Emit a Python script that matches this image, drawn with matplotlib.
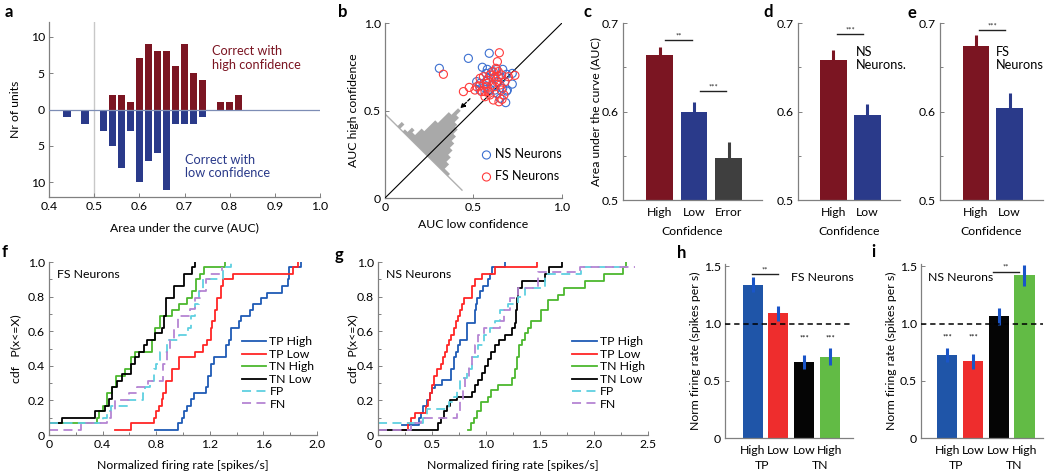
import numpy as np
import matplotlib.pyplot as plt
from matplotlib.ticker import MultipleLocator

plt.rcParams['font.family'] = ['Lato', 'DejaVu Sans']
plt.rcParams['font.size'] = 8.8

# ---------------- data ----------------
# a: AUC histograms
hi_bins = [0.54, 0.56, 0.58, 0.60, 0.62, 0.64, 0.66, 0.68, 0.70, 0.72, 0.74, 0.78, 0.80, 0.82]
hi_counts = [2, 2, 1, 7, 9, 8, 8, 6, 9, 5, 4, 1, 1, 2]
lo_bins = [0.44, 0.48, 0.52, 0.54, 0.56, 0.58, 0.60, 0.62, 0.64, 0.66, 0.68, 0.70, 0.72, 0.74]
lo_counts = [1, 2, 3, 5, 8, 3, 10, 7, 6, 11, 2, 2, 2, 1]

# b: AUC low vs high confidence per neuron
ns_low = [0.307, 0.471, 0.589, 0.55, 0.578, 0.571, 0.603, 0.631, 0.665, 0.687, 0.719, 0.719, 0.691,
          0.687, 0.682, 0.65, 0.621, 0.593, 0.571, 0.537, 0.518, 0.537, 0.559, 0.64, 0.659, 0.612,
          0.584, 0.665, 0.631]
ns_high = [0.741, 0.798, 0.827, 0.747, 0.735, 0.712, 0.722, 0.735, 0.735, 0.707, 0.712, 0.651, 0.617,
           0.611, 0.545, 0.57, 0.617, 0.621, 0.665, 0.655, 0.665, 0.617, 0.632, 0.665, 0.684, 0.684,
           0.684, 0.627, 0.598]
fs_low = [0.33, 0.443, 0.476, 0.646, 0.635, 0.734, 0.612, 0.644, 0.518, 0.508, 0.533, 0.546, 0.565,
          0.571, 0.578, 0.556, 0.593, 0.612, 0.627, 0.64, 0.621, 0.631, 0.603, 0.621, 0.65, 0.657,
          0.672, 0.661, 0.584, 0.537, 0.659, 0.697, 0.678, 0.593, 0.565, 0.574, 0.64]
fs_high = [0.707, 0.608, 0.632, 0.83, 0.779, 0.701, 0.56, 0.55, 0.636, 0.617, 0.64, 0.608, 0.608,
           0.636, 0.674, 0.693, 0.703, 0.722, 0.741, 0.722, 0.693, 0.665, 0.646, 0.636, 0.646, 0.617,
           0.589, 0.564, 0.608, 0.684, 0.703, 0.693, 0.665, 0.589, 0.579, 0.655, 0.693]
# histogram of (high - low) shown along the anti-diagonal
diff_edges = [-0.23, -0.20, -0.17, -0.14, -0.11, -0.08, -0.05, -0.02, 0.01, 0.04, 0.07,
              0.10, 0.13, 0.16, 0.19, 0.22, 0.25, 0.28, 0.31, 0.34]
diff_counts = [1, 1, 3, 5, 7, 9, 11, 13, 14, 16, 18, 15, 10, 5, 2, 3, 1, 0, 2]

# c, d, e: mean AUC
c_labels = ['High', 'Low', 'Error']
c_vals = [0.664, 0.600, 0.548]
c_err = [0.009, 0.011, 0.017]
d_labels = ['High', 'Low']
d_vals = [0.658, 0.596]
d_err = [0.011, 0.013]
e_labels = ['High', 'Low']
e_vals = [0.674, 0.604]
e_err = [0.013, 0.017]

# f: FS neurons cdf
f_tph_x = [0.79, 0.96, 0.99, 1.01, 1.03, 1.06, 1.08, 1.17, 1.19, 1.21, 1.23, 1.32, 1.34, 1.36, 1.42,
           1.43, 1.50, 1.52, 1.58, 1.63, 1.74, 1.78, 1.79, 1.88]
f_tph_y = [0.03, 0.07, 0.10, 0.14, 0.17, 0.21, 0.24, 0.28, 0.34, 0.41, 0.45, 0.52, 0.55, 0.62, 0.66,
           0.69, 0.72, 0.76, 0.79, 0.82, 0.86, 0.90, 0.97, 1.0]
f_tpl_x = [0.49, 0.61, 0.78, 0.80, 0.82, 0.84, 0.85, 0.87, 0.92, 0.97, 1.09, 1.15, 1.18, 1.21, 1.22,
           1.24, 1.25, 1.28, 1.30, 1.37, 1.82, 1.86]
f_tpl_y = [0.03, 0.07, 0.10, 0.14, 0.17, 0.21, 0.24, 0.31, 0.38, 0.45, 0.48, 0.52, 0.55, 0.62, 0.66,
           0.72, 0.79, 0.86, 0.90, 0.93, 0.97, 1.0]
f_tnh_x = [0.0, 0.357, 0.37, 0.40, 0.43, 0.47, 0.50, 0.57, 0.61, 0.645, 0.77, 0.79, 0.83, 0.92, 0.97,
           1.03, 1.07, 1.10, 1.13, 1.16, 1.31]
f_tnh_y = [0.07, 0.10, 0.14, 0.17, 0.24, 0.28, 0.34, 0.38, 0.45, 0.48, 0.55, 0.62, 0.69, 0.72, 0.76,
           0.79, 0.83, 0.90, 0.93, 0.97, 1.0]
f_tnl_x = [0.0, 0.095, 0.345, 0.42, 0.445, 0.47, 0.51, 0.545, 0.61, 0.64, 0.67, 0.71, 0.73, 0.79, 0.84,
           0.86, 0.87, 0.93, 1.01, 1.07, 1.09]
f_tnl_y = [0.07, 0.10, 0.14, 0.17, 0.21, 0.28, 0.31, 0.35, 0.41, 0.45, 0.48, 0.52, 0.55, 0.59, 0.62,
           0.69, 0.79, 0.86, 0.93, 0.97, 1.0]
f_fp_x = [0.0, 0.40, 0.43, 0.46, 0.59, 0.70, 0.72, 0.75, 0.78, 0.80, 0.83, 0.88, 0.97, 1.04, 1.06,
          1.09, 1.12, 1.15, 1.30, 1.36]
f_fp_y = [0.07, 0.10, 0.14, 0.17, 0.20, 0.24, 0.28, 0.31, 0.38, 0.41, 0.48, 0.55, 0.58, 0.62, 0.69,
          0.76, 0.83, 0.90, 0.97, 1.0]
f_fn_x = [0.0, 0.24, 0.43, 0.46, 0.49, 0.60, 0.66, 0.74, 0.85, 0.88, 0.90, 0.93, 0.96, 1.05, 1.09,
          1.13, 1.17, 1.20, 1.29]
f_fn_y = [0.03, 0.07, 0.10, 0.14, 0.20, 0.24, 0.28, 0.31, 0.41, 0.48, 0.55, 0.62, 0.69, 0.73, 0.79,
          0.83, 0.90, 0.93, 0.97]

# g: NS neurons cdf
g_tph_x = [0.22, 0.38, 0.40, 0.42, 0.45, 0.48, 0.50, 0.53, 0.59, 0.68, 0.70, 0.72, 0.74, 0.76, 0.82,
           0.90, 0.91, 0.92, 0.94, 0.97, 1.02, 1.04, 1.06, 1.18]
g_tph_y = [0.06, 0.10, 0.13, 0.17, 0.20, 0.24, 0.27, 0.29, 0.32, 0.38, 0.45, 0.48, 0.52, 0.55, 0.65,
           0.72, 0.76, 0.79, 0.83, 0.86, 0.90, 0.93, 0.97, 1.0]
g_tpl_x = [0.17, 0.28, 0.31, 0.34, 0.44, 0.46, 0.48, 0.50, 0.52, 0.55, 0.58, 0.60, 0.62, 0.64, 0.66,
           0.68, 0.70, 0.72, 0.74, 0.76, 0.78, 0.80, 0.87, 0.90, 0.96, 1.08, 1.47]
g_tpl_y = [0.03, 0.07, 0.10, 0.13, 0.17, 0.20, 0.24, 0.29, 0.34, 0.38, 0.41, 0.45, 0.48, 0.52, 0.55,
           0.58, 0.62, 0.66, 0.69, 0.72, 0.76, 0.79, 0.86, 0.90, 0.93, 0.97, 1.0]
g_tnh_x = [0.83, 0.86, 0.89, 0.92, 0.95, 1.02, 1.05, 1.11, 1.24, 1.27, 1.29, 1.31, 1.33, 1.36, 1.39,
           1.42, 1.51, 1.57, 1.67, 1.72, 1.92, 2.09, 2.27, 2.30]
g_tnh_y = [0.03, 0.07, 0.10, 0.14, 0.19, 0.22, 0.26, 0.29, 0.33, 0.38, 0.45, 0.52, 0.55, 0.59, 0.62,
           0.66, 0.72, 0.78, 0.81, 0.85, 0.89, 0.93, 0.97, 1.0]
g_tnl_x = [0.0, 0.56, 0.58, 0.61, 0.64, 0.67, 0.73, 0.87, 0.90, 0.93, 0.96, 0.99, 1.02, 1.05, 1.08,
           1.12, 1.18, 1.24, 1.27, 1.28, 1.29, 1.30, 1.33, 1.55, 1.58, 1.70]
g_tnl_y = [0.03, 0.07, 0.10, 0.14, 0.17, 0.20, 0.22, 0.25, 0.29, 0.32, 0.36, 0.40, 0.44, 0.48, 0.52,
           0.55, 0.58, 0.62, 0.65, 0.72, 0.79, 0.85, 0.89, 0.93, 0.97, 1.0]
g_fp_x = [0.0, 0.42, 0.45, 0.66, 0.70, 0.73, 0.76, 0.82, 0.87, 0.93, 0.98, 1.04, 1.08, 1.13, 1.20,
          1.30, 1.36, 1.55, 1.88, 2.30]
g_fp_y = [0.067, 0.10, 0.15, 0.19, 0.22, 0.26, 0.33, 0.38, 0.45, 0.52, 0.58, 0.62, 0.66, 0.72, 0.76,
          0.80, 0.85, 0.93, 0.97, 0.97]
g_fn_x = [0.0, 0.31, 0.40, 0.73, 0.76, 0.79, 0.81, 0.84, 0.87, 0.90, 0.93, 0.98, 1.13, 1.17, 1.22,
          1.30, 1.48, 1.87, 2.38]
g_fn_y = [0.03, 0.07, 0.10, 0.14, 0.20, 0.28, 0.33, 0.40, 0.45, 0.52, 0.58, 0.62, 0.66, 0.72, 0.79,
          0.85, 0.94, 0.97, 0.97]

# h, i: normalised firing rates
hi_labels = ['High', 'Low', 'Low', 'High']
h_vals = [1.34, 1.09, 0.665, 0.71]
h_err = [0.065, 0.065, 0.062, 0.075]
i_vals = [0.725, 0.67, 1.065, 1.42]
i_err = [0.06, 0.065, 0.075, 0.09]

DARK_RED = '#7b1522'
DARK_BLUE = '#2a3a8a'
GREY = '#3f3f3f'
AXC = '#808080'
CDF_COLORS = ['#1f5bb5', '#ff2525', '#4cb82e', '#000000', '#5fd0e0', '#b585d3']
BAR4_COLORS = ['#1f55a8', '#ee2d2d', '#050505', '#62bb45']
ERR_BLUE = '#1a55c8'

W, H = 1050, 473
fig = plt.figure(figsize=(W / 100, H / 100), dpi=100)


def px_axes(x0, y0, x1, y1):
    ax = fig.add_axes([x0 / W, 1 - y1 / H, (x1 - x0) / W, (y1 - y0) / H])
    ax.box_px = (x0, y0, x1, y1)
    for s in ['top', 'right']:
        ax.spines[s].set_visible(False)
    for s in ['left', 'bottom']:
        ax.spines[s].set_color(AXC)
        ax.spines[s].set_linewidth(0.9)
    ax.tick_params(which='both', direction='in', color=AXC, width=0.7, labelsize=8.8, pad=3)
    ax.tick_params(which='major', length=3)
    ax.tick_params(which='minor', length=2)
    return ax


def ylabel_px(ax, text, px):
    # the y label is anchored at its right edge (rotated 'bottom')
    x0, y0, x1, y1 = ax.box_px
    ax.set_ylabel(text, fontsize=8.8)
    ax.yaxis.set_label_coords((px + 6 - x0) / (x1 - x0), 0.5)


def xlabel_px(ax, text, py):
    x0, y0, x1, y1 = ax.box_px
    ax.set_xlabel(text, fontsize=8.8)
    ax.xaxis.set_label_coords(0.5, (y1 - py + 6) / (y1 - y0))


def letter(px, py, s):
    fig.text(px / W, 1 - py / H, s, fontsize=12, fontweight='bold', ha='center', va='center')


# ---------------- a ----------------
ax = px_axes(49, 22, 320, 197)
ax.axvline(0.5, color='#c8c8c8', lw=1.0, zorder=1)
ax.bar(hi_bins, hi_counts, width=0.0163, color=DARK_RED, zorder=2)
ax.bar(lo_bins, -np.array(lo_counts), width=0.0163, color=DARK_BLUE, zorder=2)
ax.axhline(0, color='#7d8db5', lw=0.9, zorder=3)
ax.set_xlim(0.4, 1.0)
ax.set_ylim(-12, 12)
ax.set_xticks([0.4, 0.5, 0.6, 0.7, 0.8, 0.9, 1.0])
ax.set_xticklabels(['0.4', '0.5', '0.6', '0.7', '0.8', '0.9', '1.0'])
ax.set_yticks([-10, -5, 0, 5, 10])
ax.set_yticklabels(['10', '5', '0', '5', '10'])
ax.text(0.76, 7.05, 'Correct with\nhigh confidence', color=DARK_RED, fontsize=9.2,
        va='center', linespacing=1.15)
ax.text(0.70, -7.8, 'Correct with\nlow confidence', color=DARK_BLUE, fontsize=9.2,
        va='center', linespacing=1.15)
ylabel_px(ax, 'Nr of units', 15)
xlabel_px(ax, 'Area under the curve (AUC)', 228)
letter(9, 12, 'a')

# ---------------- b ----------------
ax = px_axes(385, 23, 562, 198)
ax.set_xlim(0, 1)
ax.set_ylim(0, 1)
# rotated histogram of the AUC difference
base = 0.48
unit = 0.0175
nrm = np.array([1.0, 1.0]) / np.sqrt(2)


def foot(d):
    return np.array([(base - d) / 2, (base + d) / 2])


verts = [foot(diff_edges[0])]
for k, cnt in enumerate(diff_counts):
    verts.append(foot(diff_edges[k]) + cnt * unit * nrm)
    verts.append(foot(diff_edges[k + 1]) + cnt * unit * nrm)
verts.append(foot(diff_edges[-1]))
verts = np.array(verts)
ax.fill(verts[:, 0], verts[:, 1], color='#a9a9a9', lw=0, zorder=2)
anti = np.array([foot(0.48), foot(-0.39)])
ax.plot(anti[:, 0], anti[:, 1], color='#b0b0b0', lw=1.0, zorder=1)
ax.plot([0, 1], [0, 1], color='black', lw=0.8, zorder=3)
ax.annotate('', xy=(0.425, 0.512), xytext=(0.48, 0.567),
            arrowprops=dict(arrowstyle='-|>', color='black', lw=0.9, linestyle=(0, (2.5, 1.5)),
                            mutation_scale=7, shrinkA=0, shrinkB=0), zorder=4)
ax.scatter(ns_low, ns_high, s=34, facecolors='none', edgecolors='#3b6fd0', linewidths=0.8,
           label='NS Neurons', zorder=4)
ax.scatter(fs_low, fs_high, s=34, facecolors='none', edgecolors='#ff3b3b', linewidths=0.8,
           label='FS Neurons', zorder=4)
ax.legend(loc='lower left', bbox_to_anchor=(0.545, 0.09), frameon=False, fontsize=9,
          handlelength=0.8, handletextpad=0.3, labelspacing=0.8, borderpad=0, borderaxespad=0)
ax.set_xticks([0, 0.5, 1])
ax.set_xticklabels(['0', '0.5', '1.0'])
ax.set_yticks([0, 0.5, 1])
ax.set_yticklabels(['0', '0.5', '1.0'])
ylabel_px(ax, 'AUC high confidence', 353)
xlabel_px(ax, 'AUC low confidence', 225)
letter(343, 12, 'b')


# ---------------- c, d, e ----------------
def auc_bars(box, vals, errs, labels, colors, xlim):
    ax = px_axes(*box)
    xs = np.arange(1, len(vals) + 1)
    ax.bar(xs, vals, width=0.78, color=colors, zorder=2)
    for x, v, e, c in zip(xs, vals, errs, colors):
        ax.errorbar(x, v, yerr=[[0], [e]], fmt='none', ecolor=c, elinewidth=2.2, capsize=0, zorder=3)
    ax.set_xlim(*xlim)
    ax.set_ylim(0.5, 0.7)
    ax.set_yticks([0.5, 0.6, 0.7])
    ax.set_yticklabels(['0.5', '0.6', '0.7'])
    ax.yaxis.set_minor_locator(MultipleLocator(0.05))
    ax.set_xticks(xs)
    ax.set_xticklabels(labels, fontsize=8.8)
    ax.tick_params(axis='x', length=0, pad=5)
    xlabel_px(ax, 'Confidence', 232)
    return ax


def sig(ax, x0, x1, y, stars, dy):
    ax.plot([x0, x1], [y, y], color='#222222', lw=1.0, zorder=3)
    ax.text((x0 + x1) / 2, y + dy, stars, fontsize=5.5, ha='center', va='bottom', color='#222222')


ax = auc_bars((623, 23, 762, 200), c_vals, c_err, c_labels, [DARK_RED, DARK_BLUE, GREY], (-0.058, 3.97))
sig(ax, 1.16, 1.94, 0.681, '**', 0.0005)
sig(ax, 2.16, 2.94, 0.623, '***', 0.0005)
ylabel_px(ax, 'Area under the curve (AUC)', 595)
letter(587, 12, 'c')

ax = auc_bars((798, 23, 900, 200), d_vals, d_err, d_labels, [DARK_RED, DARK_BLUE], (-0.044, 2.956))
sig(ax, 1.1, 1.87, 0.688, '***', 0.0005)
ax.text(1.66, 0.660, 'NS\nNeurons.', fontsize=9.2, va='center', linespacing=1.15)
letter(768, 12, 'd')

ax = auc_bars((940, 23, 1043, 200), e_vals, e_err, e_labels, [DARK_RED, DARK_BLUE], (-0.075, 3.0))
sig(ax, 1.1, 1.88, 0.6916, '***', 0.0005)
ax.text(1.6, 0.660, 'FS\nNeurons', fontsize=9.2, va='center', linespacing=1.15)
letter(912, 13, 'e')


# ---------------- f, g ----------------
def cdf_panel(box, curves, xmax, xticks, xticklabels, xminor, title):
    ax = px_axes(*box)
    names = ['TP High', 'TP Low', 'TN High', 'TN Low', 'FP', 'FN']
    for (cx, cy), name, col in zip(curves, names, CDF_COLORS):
        ls = (0, (5, 3)) if name in ('FP', 'FN') else '-'
        ax.step(cx, cy, where='post', color=col, lw=1.3, ls=ls, label=name)
    ax.set_xlim(0, xmax)
    ax.set_ylim(0, 1.0)
    ax.set_xticks(xticks)
    ax.set_xticklabels(xticklabels)
    ax.xaxis.set_minor_locator(MultipleLocator(xminor))
    ax.set_yticks([0, 0.2, 0.4, 0.6, 0.8, 1.0])
    ax.set_yticklabels(['0', '0.2', '0.4', '0.6', '0.8', '1.0'])
    ax.yaxis.set_minor_locator(MultipleLocator(0.1))
    ax.text(0.03, 0.925, title, transform=ax.transAxes, fontsize=8.8, va='center')
    ax.legend(loc='upper left', bbox_to_anchor=(0.72, 0.57), frameon=False, fontsize=8.8,
              handlelength=2.0, handletextpad=0.25, labelspacing=0.12, borderpad=0, borderaxespad=0)
    xlabel_px(ax, 'Normalized firing rate [spikes/s]', 466)
    return ax


f_curves = [(f_tph_x, f_tph_y), (f_tpl_x, f_tpl_y), (f_tnh_x, f_tnh_y),
            (f_tnl_x, f_tnl_y), (f_fp_x, f_fp_y), (f_fn_x, f_fn_y)]
ax = cdf_panel((49, 262, 317, 435), f_curves, 2.0, [0, 0.4, 0.8, 1.2, 1.6, 2.0],
               ['0', '0.4', '0.8', '1.2', '1.6', '2.0'], 0.2, 'FS Neurons')
ylabel_px(ax, 'cdf   P(x<=X)', 15)
letter(5, 252, 'f')

g_curves = [(g_tph_x, g_tph_y), (g_tpl_x, g_tpl_y), (g_tnh_x, g_tnh_y),
            (g_tnl_x, g_tnl_y), (g_fp_x, g_fp_y), (g_fn_x, g_fn_y)]
ax = cdf_panel((378, 262, 648, 435), g_curves, 2.5, [0, 0.5, 1.0, 1.5, 2.0, 2.5],
               ['0', '0.5', '1.0', '1.5', '2.0', '2.5'], 0.25, 'NS Neurons')
ylabel_px(ax, 'cdf   P(x<=X)', 352)
letter(339, 255, 'g')


# ---------------- h, i ----------------
def rate_bars(box, vals, errs, xlim):
    ax = px_axes(*box)
    xs = np.arange(1, 5)
    ax.bar(xs, vals, width=0.78, color=BAR4_COLORS, zorder=2)
    ax.errorbar(xs, vals, yerr=errs, fmt='none', ecolor=ERR_BLUE, elinewidth=2.2, capsize=0, zorder=3)
    ax.plot(xlim, [1.0, 1.0], color='black', lw=1.1, ls=(0, (3.5, 2.5)), zorder=4)
    ax.set_xlim(*xlim)
    ax.set_ylim(0, 1.52)
    ax.set_yticks([0, 0.5, 1.0, 1.5])
    ax.set_yticklabels(['0', '0.5', '1.0', '1.5'])
    ax.set_xticks(xs)
    ax.set_xticklabels(hi_labels, fontsize=8.8)
    ax.tick_params(axis='x', length=0, pad=5)
    x0, y0, x1, y1 = box
    yf = (y1 - 465) / (y1 - y0)
    ax.text(1.35, yf, 'TP', transform=ax.get_xaxis_transform(), ha='center', va='center', fontsize=8.8)
    ax.text(3.6, yf, 'TN', transform=ax.get_xaxis_transform(), ha='center', va='center', fontsize=8.8)
    ylabel_px(ax, 'Norm firing rate (spikes per s)', box[0] - 30)
    return ax


ax = rate_bars((725, 264, 853, 438), h_vals, h_err, (-0.07, 4.89))
sig(ax, 0.96, 2.0, 1.434, '**', 0.005)
ax.text(3, 0.84, '***', fontsize=5.5, ha='center', va='bottom')
ax.text(4, 0.84, '***', fontsize=5.5, ha='center', va='bottom')
ax.text(2.5, 1.40, 'FS Neurons', fontsize=8.8, va='center')
letter(682, 253, 'h')

ax = rate_bars((921, 264, 1043, 438), i_vals, i_err, (-0.02, 4.72))
sig(ax, 2.76, 3.77, 1.454, '**', 0.005)
ax.text(1, 0.85, '***', fontsize=5.5, ha='center', va='bottom')
ax.text(2, 0.85, '***', fontsize=5.5, ha='center', va='bottom')
ax.text(0.25, 1.40, 'NS Neurons', fontsize=8.8, va='center')
letter(873, 252, 'i')

fig.savefig('out.png', dpi=100)
